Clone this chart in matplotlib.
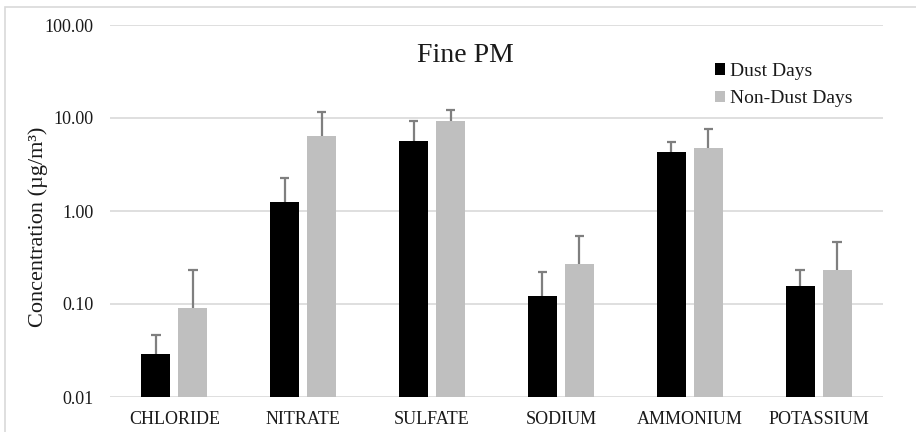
import numpy as np
import matplotlib
matplotlib.use("Agg")
import matplotlib.pyplot as plt
from matplotlib.patches import Rectangle
from matplotlib.ticker import FixedLocator, FuncFormatter

# fine PM ion concentrations, ug/m3 (mean and mean + sd)
species = ["CHLORIDE", "NITRATE", "SULFATE", "SODIUM", "AMMONIUM", "POTASSIUM"]
dust_mean = [0.029, 1.26, 5.70, 0.121, 4.34, 0.156]
dust_upper = [0.046, 2.28, 9.29, 0.219, 5.56, 0.234]
nondust_mean = [0.091, 6.45, 9.35, 0.269, 4.72, 0.230]
nondust_upper = [0.230, 11.6, 12.2, 0.542, 7.56, 0.461]
y_ticks = [0.01, 0.1, 1, 10, 100]

plt.rcParams["font.family"] = ["Liberation Serif", "DejaVu Serif"]
text_color = "#1a1a1a"

fig = plt.figure(figsize=(9.16, 4.32), dpi=100)
ax = fig.add_axes([110 / 916, 1 - 397 / 432, 773 / 916, 372 / 432])

x = np.arange(len(species))
width = 0.225
offset = width / 2 + 0.031
cap = 0.036

ax.bar(x - offset, dust_mean, width, color="black", label="Dust Days", zorder=3)
ax.bar(x + offset, nondust_mean, width, color="#bfbfbf", label="Non-Dust Days", zorder=3)

# plus-side error bars only
for xs, lo, hi in [(x - offset, dust_mean, dust_upper), (x + offset, nondust_mean, nondust_upper)]:
    ax.vlines(xs, lo, hi, color="#7f7f7f", linewidth=1.6, zorder=4)
    ax.hlines(hi, xs - cap, xs + cap, color="#7f7f7f", linewidth=1.6, zorder=4)

ax.set_yscale("log")
ax.set_ylim(0.01, 100)
ax.set_xlim(-0.5, len(species) - 0.5)
ax.yaxis.set_major_locator(FixedLocator(y_ticks))
ax.yaxis.set_minor_locator(FixedLocator([]))
ax.yaxis.set_major_formatter(FuncFormatter(lambda v, p: "%.2f" % v))
ax.set_xticks(x)
ax.set_xticklabels(species)
ax.tick_params(axis="both", length=0, colors=text_color, labelsize=13)
ax.tick_params(axis="x", labelsize=13, pad=10)
ax.tick_params(axis="y", pad=12)
ax.grid(axis="y", color="#d9d9d9", linewidth=1.2, zorder=0)
ax.set_axisbelow(True)
for s in ax.spines.values():
    s.set_visible(False)

fig.text(38 / 916, 1 - 227 / 432, "Concentration (µg/m³)", fontsize=16,
         color=text_color, rotation=90, ha="center", va="center")

fig.text(465 / 916, 1 - 55 / 432, "Fine PM", fontsize=20, color=text_color,
         ha="center", va="center")

ax.legend(loc="upper left", bbox_to_anchor=(701 / 916, 1 - 49 / 432),
          bbox_transform=fig.transFigure, frameon=False, fontsize=14,
          handlelength=0.55, handleheight=0.55, handletextpad=0.25,
          labelspacing=0.55, labelcolor=text_color, borderpad=0.2)

# light frame around the chart area
fig.patches.append(Rectangle((5 / 916, -0.05), 1.2, 1.05 - 7 / 432,
                             transform=fig.transFigure, fill=False,
                             edgecolor="#d9d9d9", linewidth=1.2))

fig.savefig("out.png", dpi=100)
